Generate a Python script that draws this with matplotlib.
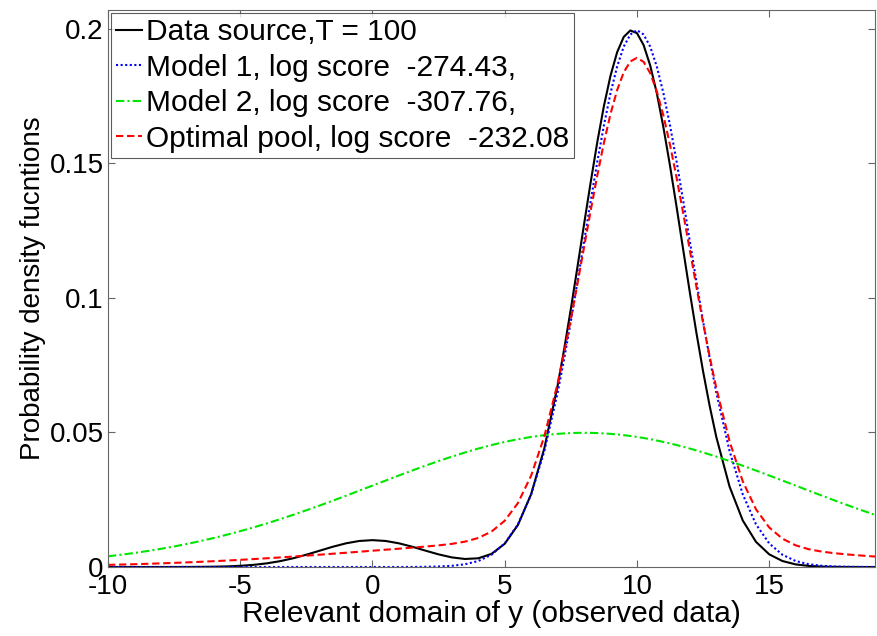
import matplotlib
matplotlib.use("Agg")
import matplotlib.pyplot as plt
import numpy as np

plt.rcParams['font.family'] = ['Liberation Sans', 'DejaVu Sans']
plt.rcParams['axes.unicode_minus'] = False

# evaluation grid: finer around the peak
y_grid = np.concatenate([np.arange(-10, 7, 0.5), np.arange(7, 13, 0.25), np.arange(13, 19.01, 0.5)])

data_source = [
    0.0, 0.0, 0.0, 0.0, 0.000003, 0.000009, 0.000022, 0.000051, 0.000111, 0.000227,
    0.000438, 0.000794, 0.00135, 0.00216, 0.00324, 0.00457, 0.00605, 0.00753, 0.0088, 0.00967,
    0.00998, 0.00967, 0.0088, 0.00754, 0.00609, 0.00469, 0.00357, 0.00298, 0.00324, 0.00487,
    0.00864, 0.01564, 0.0271, 0.0442,
    0.0674, 0.0811, 0.0959, 0.1115, 0.1274, 0.1430, 0.1579, 0.1713, 0.1826, 0.1913,
    0.1970, 0.1994, 0.1984, 0.1940, 0.1864, 0.1761, 0.1634, 0.1491, 0.1337, 0.1178,
    0.1020, 0.0869, 0.0727, 0.0598,
    0.0483, 0.0299, 0.0173, 0.00935, 0.00471, 0.00222, 0.00097, 0.0004, 0.00015, 0.00005,
    0.00002, 0.0, 0.0,
]

model_1 = [
    0.0, 0.0, 0.0, 0.0, 0.0, 0.0, 0.0, 0.0, 0.0, 0.0,
    0.0, 0.0, 0.0, 0.0, 0.0, 0.0, 0.0, 0.0, 0.0, 0.0,
    0.0, 0.0, 0.0, 0.00002, 0.00007, 0.00018, 0.00044, 0.00102, 0.00222, 0.00455,
    0.00877, 0.01587, 0.0270, 0.04316,
    0.0648, 0.0775, 0.0913, 0.1060, 0.1210, 0.1360, 0.1506, 0.1641, 0.1761, 0.1860,
    0.1934, 0.1979, 0.1995, 0.1979, 0.1934, 0.1860, 0.1761, 0.1641, 0.1506, 0.1360,
    0.1210, 0.1060, 0.0913, 0.0775,
    0.0648, 0.04316, 0.0270, 0.01587, 0.00877, 0.00455, 0.00222, 0.00102, 0.00044, 0.00018,
    0.00007, 0.00002, 0.0,
]

model_2 = [
    0.00397, 0.00456, 0.00522, 0.00594, 0.00675, 0.00763, 0.00860, 0.00965, 0.01079, 0.01201,
    0.01332, 0.01471, 0.01619, 0.01775, 0.01938, 0.02108, 0.02283, 0.02464, 0.02649, 0.02836,
    0.03025, 0.03214, 0.03401, 0.03585, 0.03764, 0.03937, 0.04102, 0.04257, 0.04401, 0.04532,
    0.04648, 0.04750, 0.04834, 0.04900,
    0.04948, 0.04965, 0.04977, 0.04985, 0.04987, 0.04985, 0.04977, 0.04965, 0.04948, 0.04927,
    0.04900, 0.04869, 0.04834, 0.04794, 0.04750, 0.04701, 0.04648, 0.04592, 0.04532, 0.04468,
    0.04401, 0.04331, 0.04257, 0.04181,
    0.04102, 0.03937, 0.03764, 0.03585, 0.03401, 0.03214, 0.03025, 0.02836, 0.02649, 0.02464,
    0.02283, 0.02108, 0.01938,
]

optimal_pool = [
    0.00079, 0.00091, 0.00104, 0.00119, 0.00135, 0.00153, 0.00172, 0.00193, 0.00216, 0.00240,
    0.00266, 0.00294, 0.00324, 0.00355, 0.00388, 0.00422, 0.00457, 0.00493, 0.00530, 0.00567,
    0.00605, 0.00643, 0.00680, 0.00719, 0.00759, 0.00803, 0.00860, 0.00943, 0.01080, 0.01316,
    0.01719, 0.02378, 0.03397, 0.04864,
    0.06822, 0.07971, 0.09212, 0.10533, 0.11887, 0.13241, 0.14549, 0.15763, 0.16839, 0.17721,
    0.18386, 0.18789, 0.18922, 0.18774, 0.18356, 0.17676, 0.16779, 0.15688, 0.14460, 0.13138,
    0.11770, 0.10402, 0.09068, 0.07814,
    0.06652, 0.04671, 0.03183, 0.02145, 0.01469, 0.01053, 0.00805, 0.00659, 0.00570, 0.00509,
    0.00463, 0.00424, 0.00388,
]

labels = [
    'Data source,T = 100',
    'Model 1, log score  -274.43,',
    'Model 2, log score  -307.76,',
    'Optimal pool, log score  -232.08',
]

y_ticks = [0, 0.05, 0.1, 0.15, 0.2]
y_tick_labels = ['0', '0.05', '0.1', '0.15', '0.2']
x_ticks = [-10, -5, 0, 5, 10, 15]

fig = plt.figure(figsize=(8.77, 6.36), dpi=100)
ax = fig.add_axes([108 / 877, 1 - 567 / 636, 767 / 877, 557 / 636])

ax.plot(y_grid, data_source, color='black', lw=1.5, ls='-', label=labels[0])
ax.plot(y_grid, model_1, color='#0000ff', lw=1.5, ls=(0, (1, 1.2)), label=labels[1])
ax.plot(y_grid, model_2, color='#00e600', lw=1.5, ls=(0, (4, 1.5, 1, 1.5)), label=labels[2])
ax.plot(y_grid, optimal_pool, color='#ff0000', lw=1.5, ls=(0, (3.5, 1.8)), label=labels[3])

ax.set_xlim(-10, 19)
ax.set_ylim(0, 0.207)
ax.set_xticks(x_ticks)
ax.set_yticks(y_ticks)
ax.set_yticklabels(y_tick_labels)
ax.tick_params(direction='in', length=5, width=0.8, color='#666666',
               labelsize=20, top=True, right=True)
ax.tick_params(axis='x', pad=5)
ax.tick_params(axis='y', pad=3)
for sp in ax.spines.values():
    sp.set_color('#666666')
    sp.set_linewidth(0.8)

ax.set_xlabel('Relevant domain of y (observed data)', fontsize=21.5, labelpad=0)
ax.set_ylabel('Probability density fucntions', fontsize=20, labelpad=3)

leg = ax.legend(loc='upper left', fontsize=21.5, frameon=True, fancybox=False,
                borderaxespad=0.1, borderpad=0.18, handlelength=0.85,
                handletextpad=0.14, labelspacing=0.25)
leg.get_frame().set_edgecolor('#333333')
leg.get_frame().set_linewidth(0.8)

fig.savefig('out.png', dpi=100)
